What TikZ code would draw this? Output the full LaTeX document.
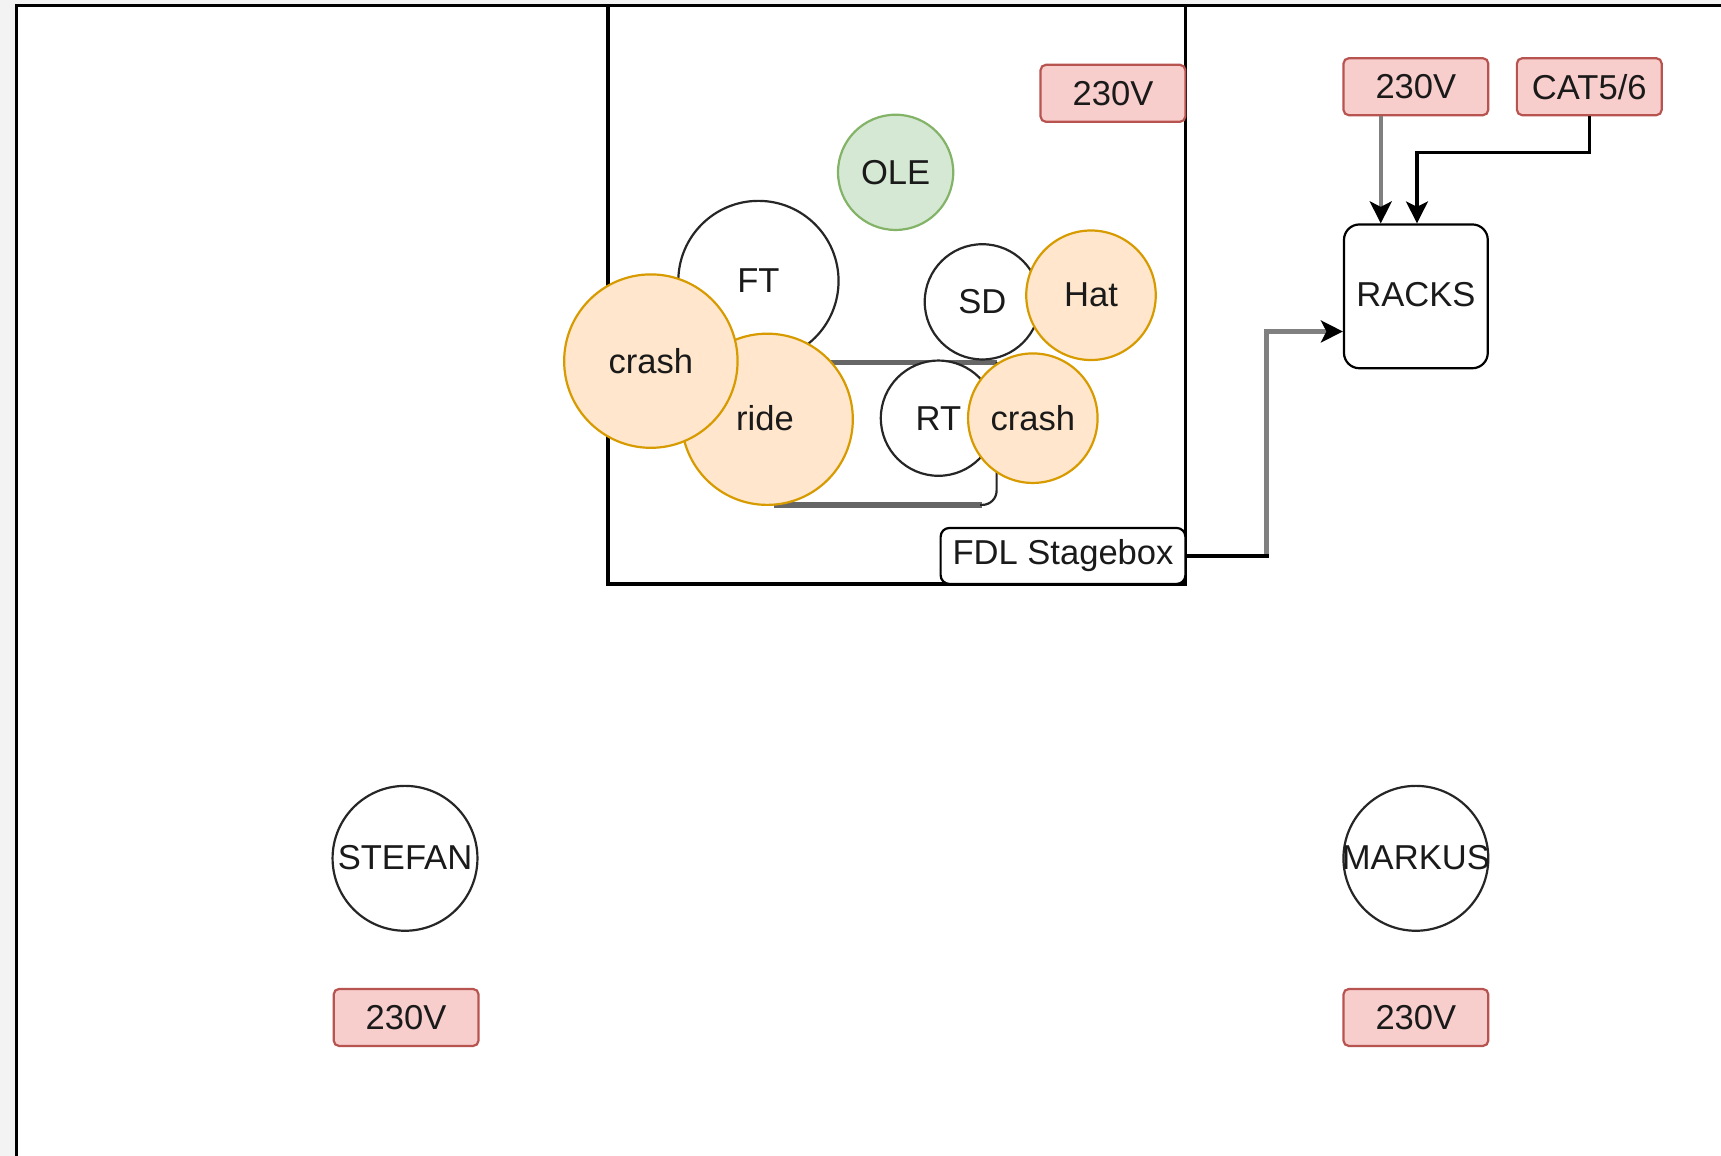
\documentclass[tikz,border=0pt]{standalone}
\usepackage{fontspec}
\setmainfont{Liberation Sans}
\usetikzlibrary{arrows.meta}
\definecolor{redfill}{HTML}{F8CECC}
\definecolor{redline}{HTML}{B85450}
\definecolor{orfill}{HTML}{FFE6CC}
\definecolor{orline}{HTML}{D79B00}
\definecolor{grfill}{HTML}{D5E8D4}
\definecolor{grline}{HTML}{82B366}
\definecolor{bgcol}{HTML}{F3F3F3}
\definecolor{wire}{HTML}{808080}
\definecolor{txt}{HTML}{1A1A1A}
\begin{document}
\begin{tikzpicture}[x=1pt,y=-1pt,
  every node/.style={font=\fontsize{31.5}{36}\selectfont, text=txt},
  plain/.style={circle, draw=black!85, line width=2pt, fill=white, inner sep=0pt},
  orange/.style={circle, draw=orline, line width=2pt, fill=orfill, inner sep=0pt},
  green/.style={circle, draw=grline, line width=2pt, fill=grfill, inner sep=0pt},
  power/.style={draw=redline, fill=redfill, line width=2pt, rounded corners=5pt,
    minimum width=132pt, minimum height=52pt, inner sep=0pt},
  whitebox/.style={draw=black, fill=white, line width=2pt, inner sep=0pt},
  tip/.style={-{Stealth[black, length=20pt, width=20pt, inset=5pt]}},
  wireline/.style={line width=4pt},
  catline/.style={line width=3pt}
]
\clip (0,0) rectangle (1568,1053);
\fill[bgcol] (0,0) rectangle (1568,1053);
\draw[fill=white, line width=3pt] (15,5) rectangle (1600,1090);
% stage area
\draw[line width=3pt] (554,5) rectangle (1080,532);
\draw[draw=black!60, line width=4.8pt] (908,330) -- (705,330);
\draw[draw=black!60, line width=4.8pt] (705,460) -- (895,460);
\draw[draw=black!85, line width=2pt, rounded corners=13pt] (908,330) -- (908,460) -- (893,460);

\node[plain, minimum size=146pt] (ft) at (691,256) {FT};
\node[orange, minimum size=156pt] (ride) at (699,382) {};
\node at (697,381) {ride};
\node[orange, minimum size=158pt] (crashl) at (593,329) {crash};
\node[plain, minimum size=105pt] (sd) at (895,275) {SD};
\node[orange, minimum size=118pt] (hat) at (994,269) {Hat};
\node[plain, minimum size=105pt] (rt) at (855,381) {RT};
\node[orange, minimum size=118pt] (crashr) at (941,381) {crash};
\node[green, minimum size=105pt] (ole) at (816,157) {OLE};

\node[power] (pstage) at (1014,85) {230V};
\node[whitebox, rounded corners=8pt, minimum width=223pt, minimum height=51pt] (fdl) at (968.5,506.5) {FDL Stagebox};

% racks
\node[power] (prack) at (1290,79) {230V};
\node[power] (cat) at (1448,79) {CAT5/6};
\node[whitebox, rounded corners=14pt, minimum width=131pt, minimum height=131pt] (racks) at (1290,270) {};
\node at (1290,268) {RACKS};

\draw[wireline, draw=wire, tip] ([xshift=-32pt]prack.south) -- ([xshift=-32pt]racks.north);
\draw[catline, draw=black, tip] (cat.south) -- ++(0,33) -| ([xshift=1pt]racks.north);
\draw[wireline, draw=wire, tip] (fdl.east) -- ++(73,0) coordinate (bend) |- ([yshift=-32pt]racks.west);
\draw[catline, draw=black] (fdl.east) -- ([xshift=2pt]bend);

% people
\node[plain, minimum size=132pt] (stefan) at (369,782) {};
\node at (369,781) {STEFAN};
\node[plain, minimum size=132pt] (markus) at (1290,782) {};
\node at (1290,781) {MARKUS};
\node[power] (pstefan) at (370,927) {230V};
\node[power] (pmarkus) at (1290,927) {230V};
\end{tikzpicture}
\end{document}
